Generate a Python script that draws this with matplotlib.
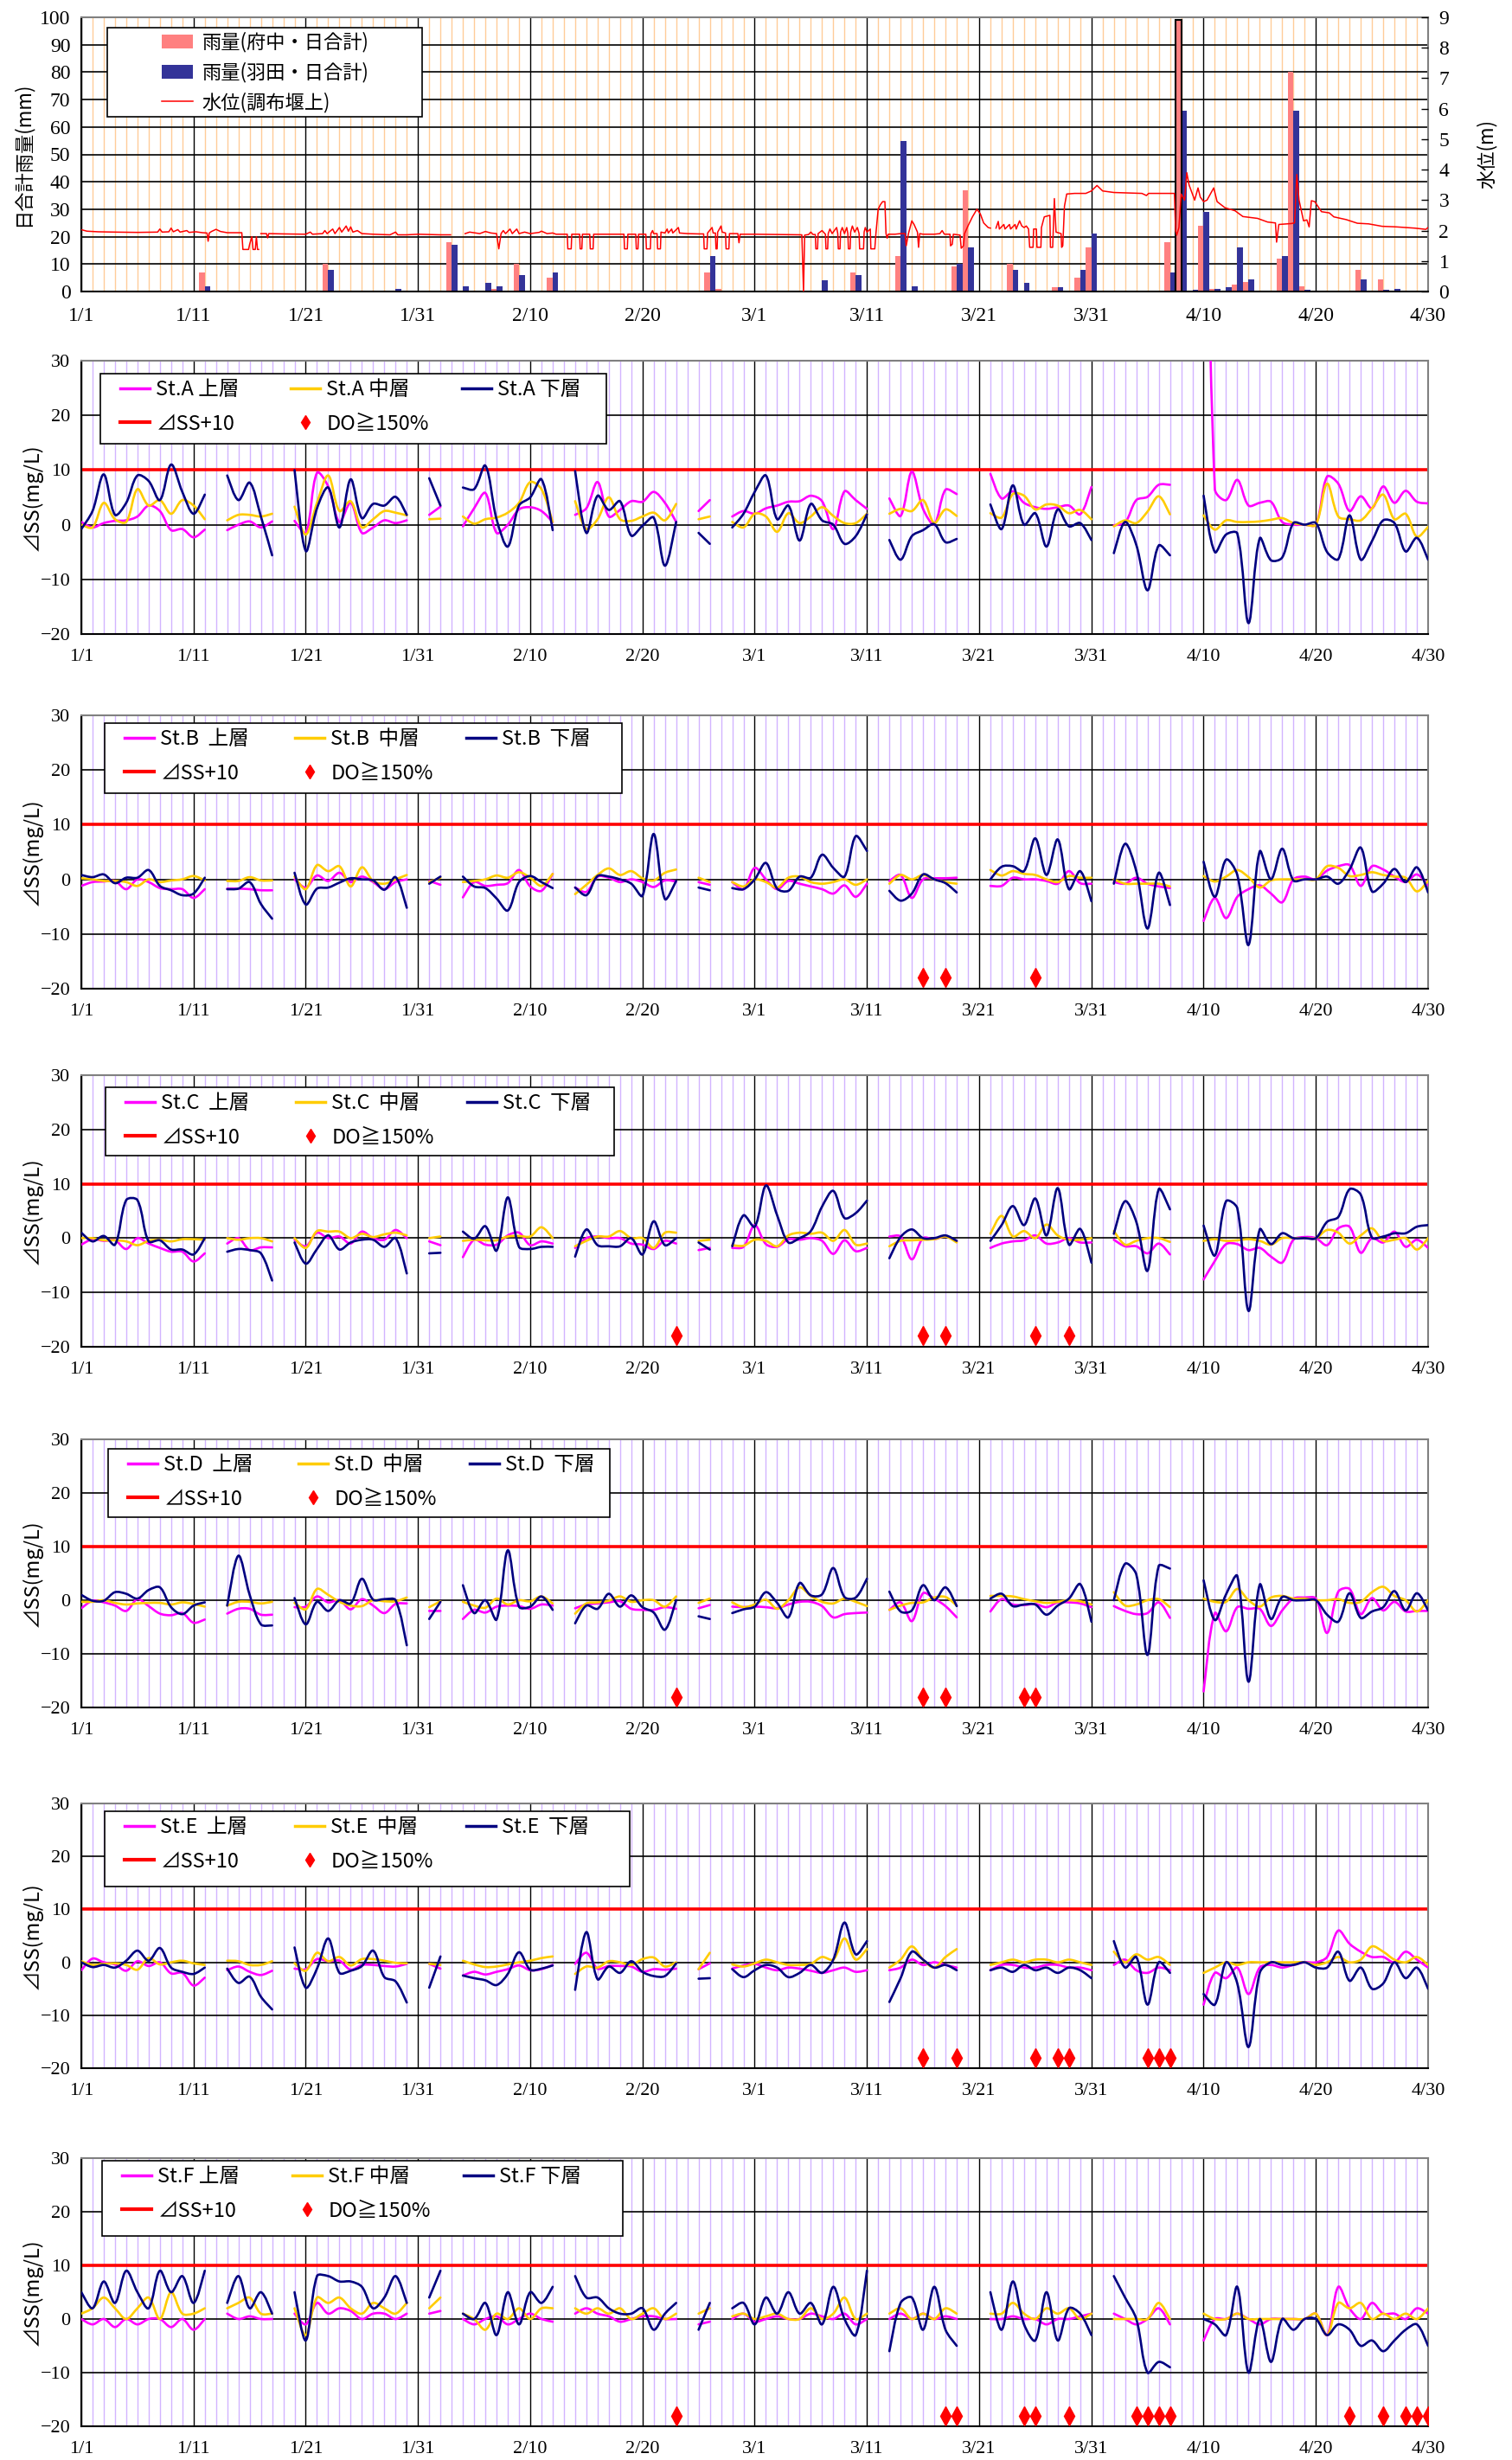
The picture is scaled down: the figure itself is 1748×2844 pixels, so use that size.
import numpy as np
import matplotlib
matplotlib.use("Agg")
import matplotlib.pyplot as plt
from matplotlib.path import Path
from matplotlib.patches import PathPatch, Patch, Rectangle
from matplotlib.lines import Line2D
from matplotlib.legend import Legend

plt.rcParams['font.family'] = ['Liberation Serif', 'Noto Sans CJK JP', 'DejaVu Sans']
JP = ['Noto Sans CJK JP', 'DejaVu Sans']

# ---------------- data ----------------
date_labels = ['1/1', '1/11', '1/21', '1/31', '2/10', '2/20', '3/1',
               '3/11', '3/21', '3/31', '4/10', '4/20', '4/30']

# daily rainfall (day index from 1/1)
rain_days = [11, 22, 28, 33, 34, 36, 37, 39, 42, 56, 57, 66, 69, 73, 74, 78, 79, 83, 84,
             87, 89, 90, 97, 98, 99, 100, 101, 102, 103, 104, 107, 108, 109, 114, 116, 117]
rain_fuchu = [7, 10, 0, 18, 0, 0, 1, 10, 5, 7, 1, 0, 7, 13, 0, 9, 37, 10, 0,
              1.5, 5, 16, 18, 99, 0, 24, 1, 0, 2.5, 3.5, 12, 80, 2, 8, 4.5, 0]
rain_haneda = [2, 8, 1, 17, 2, 3, 2, 6, 7, 13, 0, 4, 6, 55, 2, 10, 16, 8, 3,
               1.5, 8, 21, 7, 66, 0.5, 29, 1, 1.5, 16, 4.5, 13, 66, 0.5, 4.5, 0.5, 1]

# water level (day, m); None = missing
water_level = [
    (0.0, 2.03), (0.5, 1.98), (1.5, 1.96), (3, 1.95), (5, 1.94), (6.8, 1.95), (7.0, 2.05),
    (7.2, 1.95), (7.8, 1.96), (8.0, 2.08), (8.2, 1.96), (8.6, 2.03), (8.8, 1.95), (9.4, 2.0),
    (9.6, 1.94), (10.2, 1.96), (10.8, 1.93), (11.2, 1.92), (11.3, 1.65), (11.4, 1.92),
    (11.6, 1.97), (12.0, 2.04), (12.4, 1.97), (13.0, 1.93), (14.3, 1.93), (14.4, 1.38),
    (14.9, 1.38), (15.0, 1.55), (15.2, 1.8), (15.3, 1.38), (15.5, 1.38), (15.6, 1.8),
    (15.7, 1.38), (15.8, 1.38), (15.9, None), (16.0, 1.9), (16.5, 1.9), (16.6, 1.76),
    (16.7, 1.9), (18, 1.89), (20, 1.88), (20.4, 1.95), (20.6, 1.88), (21.5, 1.9), (21.7, 2.0),
    (21.9, 1.9), (22.4, 2.05), (22.6, 1.9), (23.0, 2.1), (23.2, 1.95), (23.6, 2.15),
    (23.8, 1.98), (24.0, 2.12), (24.2, 1.95), (24.6, 2.0), (25.0, 1.9), (26, 1.88),
    (27.5, 1.86), (28.0, 1.95), (28.2, 1.86), (29, 1.86), (30, 1.88), (32.0, 1.86),
    (32.9, 1.86), (33.5, None), (34.2, 1.9), (34.6, 1.95), (35.5, 1.9), (36.0, 1.97),
    (36.5, 1.92), (37.0, 1.9), (37.2, 1.40), (37.4, 1.9), (37.6, 2.0), (37.8, 1.9),
    (38.2, 2.05), (38.4, 1.9), (38.8, 2.05), (39.0, 1.9), (39.5, 1.95), (40.0, 1.9),
    (40.8, 1.94), (41.0, 1.98), (41.5, 1.9), (42.0, 1.92), (42.3, 1.88),
    (43.3, 1.88), (43.35, 1.40), (43.65, 1.40), (43.7, 1.88), (44.4, 1.88), (44.45, 1.40),
    (44.6, 1.40), (44.65, 1.88), (45.3, 1.88), (45.35, 1.40), (45.6, 1.40), (45.65, 1.88),
    (48.35, 1.88), (48.4, 1.40), (48.65, 1.40), (48.7, 1.88), (49.4, 1.88), (49.45, 1.40),
    (49.6, 1.40), (49.65, 1.88), (50.3, 1.88), (50.35, 1.40), (50.7, 1.40), (50.75, 1.9),
    (50.9, 2.0), (51.0, 1.9), (51.3, 1.9), (51.35, 1.40), (51.6, 1.40), (51.65, 1.95),
    (52.0, 1.92), (52.2, 2.05), (52.3, 1.92), (52.6, 2.05), (52.7, 1.92), (53.2, 2.1),
    (53.3, 1.92), (54, 1.9), (55.0, 1.89), (55.45, 1.89), (55.5, 1.4), (55.75, 1.4),
    (55.8, 1.92), (56.2, 2.1), (56.3, 1.92), (56.5, 1.92), (56.55, 1.4), (56.65, 1.4),
    (56.7, 1.95), (57.0, 2.15), (57.1, 1.95), (57.4, 1.92), (57.45, 1.4), (57.7, 1.4),
    (57.75, 1.9), (58.5, 1.9), (58.6, 1.6), (58.7, 1.88), (60, 1.88), (62, 1.87),
    (64.0, 1.86), (64.2, 1.86), (64.35, 0.0), (64.45, 1.85), (64.8, 1.87), (65.0, 1.95),
    (65.2, 1.87), (65.4, 1.87), (65.45, 1.4), (65.6, 1.4), (65.65, 1.9), (66.0, 2.0),
    (66.3, 1.88), (66.35, 1.4), (66.5, 1.4), (66.55, 1.9), (66.7, 2.05), (66.9, 1.9),
    (67.3, 2.1), (67.4, 1.9), (67.45, 1.4), (67.6, 1.4), (67.65, 1.95), (67.8, 2.1),
    (68.0, 1.9), (68.2, 2.1), (68.3, 1.9), (68.35, 1.4), (68.5, 1.4), (68.55, 1.95),
    (68.7, 2.15), (68.9, 1.95), (69.15, 2.1), (69.3, 1.9), (69.35, 1.4), (69.7, 1.4),
    (69.75, 1.95), (69.85, 2.1), (70.0, 1.95), (70.3, 2.05), (70.35, 1.4), (70.7, 1.4),
    (70.8, 1.9), (71.0, 2.7), (71.2, 2.85), (71.4, 2.95), (71.6, 2.95), (71.7, 1.9),
    (71.8, 1.75), (71.9, 1.88), (72.5, 1.88), (73.0, 1.9), (73.4, 1.9), (73.5, 1.5),
    (73.7, 1.9), (74.0, 2.32), (74.2, 2.2), (74.5, 1.95), (74.6, 1.45), (74.7, 1.9),
    (75.0, 1.88), (76.0, 1.88), (76.5, 1.9), (76.7, 2.0), (76.9, 1.88), (77.4, 1.88),
    (77.45, 1.5), (77.6, 1.55), (77.7, 1.88), (78.3, 1.85), (78.4, 1.42), (78.6, 1.5),
    (78.7, 1.9), (79.0, 2.15), (79.4, 2.45), (79.8, 2.7), (80.1, 2.55), (80.4, 2.25),
    (80.8, 2.1), (81.0, 2.08), (81.2, None), (81.5, 2.08), (81.7, 2.3), (81.8, 2.05),
    (82.2, 2.2), (82.3, 2.05), (82.7, 2.2), (82.8, 2.05), (83.2, 2.2), (83.3, 2.05),
    (83.6, 2.32), (83.8, 2.15), (84.0, 2.1), (84.2, 2.15), (84.4, 2.05), (84.5, 1.45),
    (84.8, 1.45), (84.85, 2.05), (85.1, 2.05), (85.15, 1.45), (85.5, 1.45), (85.55, 2.1),
    (85.8, 2.45), (86.3, 2.5), (86.35, 1.45), (86.55, 1.45), (86.7, 3.05), (86.85, 1.95),
    (87.3, 1.9), (87.35, 1.45), (87.45, 1.5), (87.6, 2.8), (87.8, 3.2), (88.5, 3.22),
    (89.5, 3.22), (90.0, 3.3), (90.5, 3.48), (91.0, 3.3), (92, 3.25), (94.5, 3.22),
    (94.9, 3.15), (95.1, 3.22), (97.4, 3.22), (97.5, 2.0), (97.6, 1.85), (97.8, 2.1),
    (98.0, 3.2), (98.3, 3.0), (98.5, 3.9), (98.7, 3.5), (99.0, 3.2), (99.2, 3.0),
    (99.5, 3.4), (99.7, 3.1), (100.0, 2.95), (100.3, 3.0), (100.9, 3.4), (101.2, 2.95),
    (101.9, 2.75), (102.8, 2.65), (103.5, 2.46), (104.8, 2.4), (105.7, 2.28), (106.4, 2.25),
    (106.5, 1.62), (106.7, 2.2), (107.8, 2.23), (108.1, 2.25), (108.3, 3.84), (108.5, 3.0),
    (108.9, 2.32), (109.2, 2.35), (109.4, 2.12), (109.6, 2.98), (109.9, 2.95), (110.5, 2.62),
    (111.2, 2.58), (111.6, 2.45), (112.7, 2.36), (113.7, 2.24), (114.7, 2.22), (115.9, 2.14),
    (117.2, 2.12), (118.8, 2.08), (119.8, 2.04), (120.0, 2.1),
]

# sampling periods (first day, last day) shared by all stations
seg_days = [(0, 11), (13, 17), (19, 29), (31, 32), (34, 42), (44, 53), (55, 56),
            (58, 70), (72, 78), (81, 90), (92, 97), (100, 120)]

# ---- St.A ----
A_up = [[0.5, -0.5, 0.3, 0.7, 0.8, 1.5, 3.5, 2.5, -1.0, -0.8, -2.3, -0.9],
        [-1.0, 0.0, 0.6, -0.5, 0.6],
        [0.7, -1.5, 9.5, 7.0, 0.5, 4.0, -1.5, -0.5, 0.8, 0.3, 0.8],
        [1.8, 3.3],
        [-0.3, 3.0, 5.8, -1.5, 0.0, 2.8, 3.2, 2.5, 0.5],
        [1.8, 3.0, 7.8, 1.5, 2.7, 4.3, 4.2, 6.0, 4.0, 0.5],
        [2.5, 4.5],
        [1.5, 2.5, 2.0, 3.0, 3.5, 4.2, 4.3, 5.3, 4.3, -0.8, 6.1, 4.5, 2.9],
        [4.8, 1.6, 9.7, 2.9, 0.1, 6.4, 5.6],
        [9.3, 4.8, 6.1, 4.0, 3.2, 2.9, 3.2, 3.5, 1.9, 6.9],
        [-0.1, 0.4, 4.5, 5.1, 7.3, 7.3],
        [100, 6.5, 4.5, 8.2, 3.5, 4.0, 4.2, 0.5, 0.0, 0.0, 0.0, 8.8, 7.5, 2.5, 5.2, 3.0,
         7.0, 4.0, 6.2, 4.2, 3.9]]
A_mid = [[0.0, -0.5, 4.0, 1.0, 0.5, 6.5, 3.5, 4.5, 2.0, 4.5, 3.5, 1.0],
         [0.8, 1.8, 1.8, 1.5, 2.0],
         [3.3, -1.8, 4.0, 9.0, 2.5, 4.3, -0.5, 1.0, 2.5, 2.2, 1.7],
         [1.0, 1.1],
         [1.5, 0.2, 1.0, 1.3, 2.2, 4.0, 7.8, 6.5, 0.5],
         [4.3, -0.8, 1.0, 5.0, 1.0, 0.7, 1.5, 2.2, 0.8, 3.8],
         [1.0, 1.5],
         [0.5, -0.5, 2.0, 1.5, -1.3, 2.1, 0.3, 1.5, 3.2, 1.6, 0.3, 0.3, 2.0],
         [2.0, 2.9, 2.5, 4.5, 0.3, 2.8, 1.6],
         [2.1, 1.3, 5.6, 5.3, 2.8, 3.7, 3.5, 2.1, 2.7, 1.0],
         [-0.3, 0.8, 0.3, 2.4, 5.2, 1.9],
         [1.7, -0.9, 0.8, 0.5, 0.5, 0.6, 0.9, 1.2, 0.3, 0.0, 0.0, 7.5, 1.5, 1.0, 0.8, 3.0,
          5.5, 1.0, 2.0, -2.2, -0.4]]
A_low = [[-0.8, 2.5, 9.2, 1.8, 4.0, 9.0, 8.0, 4.5, 11.0, 6.0, 2.0, 5.5],
         [9.0, 4.5, 7.7, 1.5, -5.6],
         [10.0, -4.8, 3.0, 6.8, -0.5, 8.3, 1.2, 3.8, 3.5, 5.1, 1.8],
         [8.5, 3.5],
         [6.8, 6.5, 10.8, 1.0, -4.0, 3.5, 5.0, 8.3, -1.0],
         [9.8, -1.5, 5.3, 2.7, 4.3, -2.0, -0.2, 1.3, -7.5, 0.5],
         [-1.5, -3.5],
         [-0.5, 2.0, 6.0, 9.0, 1.0, 3.5, -2.9, 3.8, 0.8, 0.0, -3.5, -2.1, 1.9],
         [-2.8, -6.4, -2.1, -1.0, 0.1, -3.2, -2.6],
         [3.7, -0.8, 7.2, 0.0, 2.1, -4.0, 2.8, -0.3, 0.3, -2.8],
         [-5.2, 0.5, -3.7, -12.0, -3.8, -5.6],
         [5.3, -5.0, -1.8, -1.6, -18.0, -2.5, -6.5, -6.0, 0.3, 0.0, 0.3, -5.0, -6.3, 1.7,
          -6.4, -3.0, 0.8, 0.3, -4.9, -2.4, -6.4]]
A_do = []

# ---- St.B ----
B_up = [[-1.2, -0.5, -0.4, -0.3, -1.8, 0.0, -0.5, -1.6, -1.8, -1.8, -3.4, -1.8],
        [-1.7, -1.7, -1.8, -2.0, -2.0],
        [0.0, -1.5, 0.7, -0.3, 1.2, -0.5, 0.5, -0.5, -1.8, -0.5, 0.0],
        [-0.3, -1.0],
        [-3.3, -0.5, -1.2, -1.0, -0.7, 1.7, -1.3, -2.1, 1.0],
        [-1.5, -2.3, 0.5, 0.3, -0.5, 0.0, -0.5, -1.4, -0.2, -0.4],
        [-0.5, -1.0],
        [-0.5, -1.8, 2.1, 0.0, -1.8, -0.3, -0.8, -1.3, -1.8, -2.6, -1.1, -3.2, -0.8],
        [-0.3, 0.8, -3.4, 0.0, 0.2, 0.2, 0.3],
        [-1.2, -1.2, 0.3, 0.0, 0.0, -0.3, -0.8, 1.5, -0.7, -0.8],
        [-0.5, -0.8, 0.3, -0.8, -1.3, -1.6],
        [-7.6, -3.4, -7.1, -3.2, -1.8, -1.1, -2.6, -4.2, 0.0, 0.5, 0.0, 1.6, 2.4, 2.6, -1.2,
         2.4, 1.8, 0.5, -0.5, 0.9, -1.1]]
B_mid = [[0.2, 0.0, -0.3, -0.3, -0.5, -1.2, 0.0, -0.5, -0.2, 0.0, 0.6, -0.2],
         [-0.3, -0.3, 0.4, -0.2, -0.2],
         [0.5, -1.8, 2.6, 1.5, 2.4, -1.3, 2.2, -0.3, -0.8, 0.0, 0.8],
         [-0.5, 0.3],
         [-0.5, -0.3, 0.0, 0.7, 0.3, 1.3, 0.3, -1.2, 1.0],
         [-2.7, -1.0, 0.8, 2.0, 0.8, 1.5, 0.2, -0.2, 1.2, 1.8],
         [0.3, -0.5],
         [-0.5, -1.3, 0.0, -0.5, -1.5, 0.3, 0.5, -0.5, -0.8, -0.5, 0.0, -1.0, 0.0],
         [-0.8, 0.8, 0.0, 0.8, 0.0, -0.5, -0.8],
         [1.7, 0.7, 1.5, 1.0, 0.8, 0.0, -0.5, 0.6, 0.3, 0.3],
         [0.0, -0.8, -0.8, -0.8, -0.8, -1.3],
         [0.6, -0.4, 0.5, 1.7, 0.4, -1.5, -0.2, 0.0, 0.0, 0.0, 0.0, 2.4, 2.1, 0.6, 0.8, 1.3,
          0.8, 0.5, 0.3, -2.2, -0.3]]
B_low = [[0.8, 0.4, 0.9, -0.7, 0.3, 0.3, 1.7, -1.2, -2.0, -2.9, -2.6, 0.3],
         [-1.8, -1.7, -0.5, -4.5, -7.2],
         [1.2, -4.6, -1.7, -1.5, -0.6, 0.2, 0.0, -0.2, -1.9, 0.4, -5.2],
         [-0.8, 0.5],
         [0.5, -1.3, -1.6, -3.5, -5.7, -0.5, 0.6, -0.5, -1.6],
         [-1.5, -2.9, 0.6, 0.5, 0.0, -0.8, -3.0, 8.3, -3.6, -0.3],
         [-1.5, -2.0],
         [-1.6, -1.8, 0.0, 3.0, -1.7, -2.1, 0.5, 0.3, 4.5, 2.1, 0.5, 7.9, 5.2],
         [-2.1, -3.9, -2.6, 0.9, 0.0, -0.7, -2.4],
         [0.0, 2.3, 2.4, 1.5, 7.5, 0.8, 7.3, -1.8, 1.5, -4.0],
         [-0.8, 6.5, 1.5, -9.0, 1.2, -4.7],
         [3.2, -3.2, 3.6, 0.8, -12.0, 5.1, 0.0, 5.6, -0.2, 0.0, 0.0, 0.5, -0.8, 1.8, 5.8,
          -2.2, -0.8, 1.9, -0.5, 2.2, -2.4]]
B_do = [75, 77, 85]

# ---- St.C ----
C_up = [[-1.2, -0.2, -0.5, -0.4, -2.0, 0.0, -1.0, -1.8, -2.5, -2.5, -4.3, -2.8],
        [-1.0, 0.0, -2.2, -1.7, -1.7],
        [-0.3, -1.5, 1.0, 0.0, 0.3, -1.0, 1.2, 0.0, -0.3, 1.5, 0.0],
        [-0.6, -1.3],
        [-3.5, -0.3, -1.2, -1.2, 0.5, 1.0, -1.3, -0.6, -1.0],
        [-1.8, 0.0, 0.3, 0.0, 0.0, -1.0, -1.2, -2.0, -0.5, -1.0],
        [-2.2, -1.8],
        [-1.8, -1.6, 2.4, -1.1, -1.6, -0.2, -0.3, 0.0, -0.5, -2.9, -0.4, -2.4, -1.8],
        [0.3, 0.3, -3.9, 0.0, -0.2, 0.3, -0.6],
        [-1.8, -1.0, -0.6, -0.4, 0.5, -1.0, -0.8, 0.0, -0.8, -0.8],
        [-0.3, -1.5, -1.5, -2.8, -1.0, -3.0],
        [-7.6, -4.2, -1.1, -1.1, -2.2, -1.8, -3.4, -4.5, -0.3, 0.2, 0.0, -1.3, 1.8, 2.1, -2.7,
         0.0, -0.8, 1.2, -1.6, -0.3, -1.8]]
C_mid = [[0.0, 0.0, -0.4, -0.4, -0.6, -1.3, -0.5, -0.3, -0.6, -0.2, -0.2, -0.3],
         [0.0, -0.3, 0.0, 0.0, -0.6],
         [0.0, -1.8, 1.3, 1.2, 1.2, 0.0, 0.8, 0.2, 0.7, 1.0, 0.5],
         [0.0, 0.3],
         [-0.5, -0.3, -0.4, -0.4, 0.3, 0.4, 0.3, 2.0, 0.0],
         [-1.5, -0.5, 0.3, 0.3, 1.3, 0.0, 0.0, -1.8, 1.0, 1.0],
         [-0.5, -0.3],
         [-1.3, -1.4, -0.3, -0.5, -1.5, 0.5, 1.0, 0.8, 1.0, -0.5, 1.5, -1.2, -1.0],
         [-1.5, -0.5, -0.4, -0.3, -0.2, 0.3, -0.8],
         [0.8, 4.1, 0.3, 1.3, 0.0, 2.5, 0.5, -0.3, -0.3, 0.0],
         [1.3, -1.2, -0.5, 0.0, 0.0, -0.7],
         [-0.5, -0.2, -0.5, -0.4, -0.2, -0.5, -1.2, 0.0, 0.0, 0.0, 0.0, 1.5, 1.0, -1.0, 0.5,
          1.8, -0.5, -0.3, 0.0, -2.1, 0.0]]
C_low = [[1.0, -0.6, 0.4, -1.2, 7.0, 7.0, -0.6, -0.4, -2.1, -2.1, -3.0, 0.0],
         [-2.5, -2.0, -2.2, -2.8, -7.8],
         [-0.8, -4.7, -2.0, 0.5, -2.1, -0.8, -0.3, -0.3, -1.6, 0.0, -6.5],
         [-2.8, -2.7],
         [1.2, -0.1, 2.2, -2.3, 7.5, -1.6, -2.0, -1.6, -1.6],
         [-3.4, 1.6, -1.3, -1.5, -1.5, 0.0, -3.0, 3.1, -1.3, 0.0],
         [-0.8, -2.1],
         [-1.5, 4.2, 2.1, 9.7, 4.2, -0.8, 0.0, 1.3, 5.8, 8.7, 3.7, 4.6, 6.9],
         [-3.7, 0.2, 1.6, 0.0, 0.0, 0.5, -0.5],
         [-0.5, 2.4, 5.9, 2.4, 7.3, 0.5, 9.2, -1.2, 1.7, -4.5],
         [0.8, 6.8, 3.0, -6.0, 9.0, 5.3],
         [2.3, -3.2, 6.8, 5.5, -13.4, 1.6, -1.1, 0.9, 0.0, 0.0, 0.0, 3.0, 3.9, 9.0, 8.0, 0.1,
          0.3, 0.9, 0.9, 2.1, 2.4]]
C_do = [53, 75, 77, 85, 88]

# ---- St.D ----
D_up = [[-1.5, -0.1, -0.4, -1.0, -2.0, 0.2, -1.1, -2.5, -2.8, -2.4, -4.2, -3.6],
        [-2.5, -1.6, -1.6, -2.7, -2.7],
        [-1.3, -1.2, 0.7, -0.4, 0.0, -1.7, 0.2, -1.0, -2.4, -0.7, -0.6],
        [-2.0, -2.0],
        [-3.5, -1.8, -2.3, -1.2, -1.0, -1.1, -1.6, -0.8, -1.0],
        [-1.5, -0.8, -0.6, -0.4, -0.2, -1.6, -1.8, -1.8, -1.3, -1.6],
        [-1.5, -0.9],
        [-1.2, -1.3, -1.2, -1.3, -1.5, -0.8, -0.3, -0.3, -1.1, -3.2, -2.6, -2.4, -2.3],
        [-1.8, -0.4, -3.9, 1.3, 0.3, -1.1, -3.2],
        [-2.1, 0.2, -0.8, -0.9, -0.7, -1.3, -0.4, -0.4, -0.6, -1.3],
        [-1.1, -2.0, -2.6, -2.4, -0.4, -3.3],
        [-17.0, -2.4, -5.8, -1.3, -1.6, -1.6, -4.8, -1.9, 0.3, 0.5, 0.3, -6.1, 1.6, 2.1, -2.6,
         0.4, -1.9, -0.3, -2.1, -2.0, -2.0]]
D_mid = [[-0.3, -0.3, 0.0, -0.5, -0.8, -0.6, -0.5, -0.5, -0.8, -0.4, -0.7, -1.2],
         [-1.0, -0.3, -0.3, -0.6, -0.3],
         [-0.5, -1.7, 2.1, 1.0, -0.3, -1.0, -1.1, 0.0, -0.2, -0.2, 0.5],
         [-1.3, -0.2],
         [-0.3, -1.0, -1.4, 0.3, -0.8, 0.0, -0.2, 0.7, -0.6],
         [-2.5, -0.6, -0.4, -0.1, 0.7, -0.3, 0.0, 0.0, -1.2, 0.7],
         [-0.5, 0.3],
         [-0.4, -1.3, -0.8, 0.1, -1.6, 0.0, 2.4, 0.8, -0.3, -0.6, 0.3, -0.3, -1.1],
         [-1.8, -1.0, -0.5, -0.4, 0.5, 0.6, -1.0],
         [0.8, 0.8, 0.7, 0.2, -0.2, -0.5, -0.3, 0.0, -0.2, -0.8],
         [1.5, -1.0, -0.8, 0.0, 0.2, -1.3],
         [0.3, -0.3, -0.3, 2.1, 0.0, -1.2, 0.5, 0.8, 0.3, 0.3, 0.0, 0.0, 0.2, -0.5, -0.3, 1.5,
          2.5, 0.8, 0.0, -2.1, 0.0]]
D_low = [[1.0, -0.1, -0.1, 1.5, 1.2, 0.3, 1.9, 2.4, -1.3, -2.6, -1.0, -0.4],
         [-1.0, 8.3, 1.0, -4.5, -4.7],
         [0.4, -4.5, -0.3, -2.0, 0.0, -0.6, 4.0, 0.1, 0.2, 0.0, -8.4],
         [-3.5, -0.3],
         [2.8, -2.4, 0.0, -3.6, 9.3, -1.2, -1.2, 0.7, -1.8],
         [-4.3, -1.0, -1.6, 1.2, -1.2, 0.9, -1.3, -2.3, -5.5, 0.0],
         [-3.0, -3.5],
         [-2.4, -1.7, -1.2, 1.5, -0.5, -3.2, 3.2, 0.9, 1.1, 6.0, 0.6, 0.5, 4.0],
         [1.6, -2.1, -1.9, 2.8, 0.0, 2.4, -1.1],
         [0.3, 1.2, -1.1, -0.8, -0.8, -2.7, -1.0, 0.3, 3.0, -4.0],
         [0.0, 6.8, 4.8, -10.2, 6.4, 5.9],
         [3.7, -3.7, 1.1, 4.5, -15.2, 2.9, -3.5, 0.6, 0.0, 0.0, 0.0, -2.7, -4.0, 1.3, -3.3,
          -2.1, -1.3, 1.7, -1.9, 1.3, -1.9]]
D_do = [53, 75, 77, 84, 85]

# ---- St.E ----
E_up = [[-1.5, 0.7, 0.0, -0.4, -1.6, 0.2, -0.7, 0.0, -2.1, -2.0, -4.4, -2.9],
        [-1.5, -0.8, -1.8, -2.4, -1.6],
        [-1.2, -1.3, 0.6, 0.2, 0.3, -1.4, -0.5, -0.5, -0.7, -0.8, -0.3],
        [-0.3, -1.2],
        [-2.5, -1.8, -2.3, -1.8, -1.3, -0.6, -1.5, -1.3, -0.5],
        [-0.3, 1.8, -1.2, -0.7, -0.7, -0.8, -1.8, -1.3, -1.4, -1.2],
        [-1.3, -0.2],
        [-1.2, -0.6, -0.3, -1.0, -1.5, -1.0, -1.2, -1.6, -2.0, -1.5, -1.0, -1.8, -1.5],
        [-1.5, -1.0, 0.5, -0.5, 0.0, -0.5, -1.0],
        [-1.5, -0.5, -0.5, -1.0, -1.0, -0.5, -0.5, -1.0, -1.0, -1.5],
        [-0.5, 0.5, -1.5, -2.0, -1.0, -1.5],
        [-8.0, -2.0, -3.0, -1.0, -6.0, -1.0, -0.5, -1.0, -0.5, 0.0, 0.0, 1.0, 6.0, 3.5, 2.0,
         1.0, 1.0, 0.0, 2.0, 0.5, -1.0]]
E_mid = [[0.2, -0.5, -0.3, -0.2, -0.5, -1.4, 0.8, -0.4, 0.0, 0.3, -0.2, -0.5],
         [0.3, 0.2, -0.5, -0.5, 0.2],
         [-0.2, -1.6, 1.8, 0.2, 1.0, -0.6, 0.6, 0.6, 0.3, -0.1, -0.2],
         [-0.3, -0.5],
         [0.3, -0.4, -0.9, -0.8, -0.4, 0.0, 0.3, 0.8, 1.1],
         [-2.2, -0.8, -1.0, 0.2, 0.0, -0.5, 0.6, 0.9, -0.8, 0.0],
         [-1.3, 1.8],
         [-0.4, -0.8, -0.2, 0.5, 0.0, -0.5, -0.5, -0.3, 1.0, 0.5, 4.5, 0.5, 2.5],
         [-1.0, 0.5, 3.0, 0.5, -1.0, 1.0, 2.5],
         [-0.5, 0.0, 0.5, 0.0, 0.5, 0.5, 0.0, 0.5, 0.0, -0.5],
         [2.0, 0.0, 1.5, 0.5, 1.0, -0.5],
         [-2.0, -1.0, 0.0, -0.5, 0.0, 0.0, 0.0, 0.0, 0.0, 0.0, -0.5, 0.0, 1.0, 0.0, 0.5, 3.0,
          2.0, 0.5, 0.0, 1.0, -0.5]]
E_low = [[0.0, -0.9, -0.5, -1.0, 0.3, 2.2, 0.3, 2.7, -1.0, -1.8, -2.2, -1.0],
         [-1.2, -3.9, -2.7, -6.5, -8.9],
         [2.8, -4.8, -1.2, 4.5, -2.0, -1.6, -0.7, 2.2, -2.8, -3.6, -7.6],
         [-4.8, 1.1],
         [-2.5, -3.0, -3.4, -4.3, -2.2, 1.9, -1.4, -1.2, -0.6],
         [-5.2, 5.7, -3.2, -0.8, -2.0, 0.2, -1.8, -2.6, -2.6, -0.2],
         [-3.1, -3.0],
         [-1.3, -2.8, -1.5, -0.5, -1.0, -2.8, -2.0, -0.5, -2.0, 0.5, 7.5, 1.5, 4.0],
         [-7.5, -3.0, 2.0, 0.5, -1.0, -0.5, -1.5],
         [-1.5, -1.0, -1.8, -0.5, -1.5, -1.0, -2.0, -1.0, -1.5, -3.0],
         [4.0, -1.0, 1.0, -8.0, 0.0, -2.0],
         [-6.0, -8.0, 0.0, -4.0, -16.0, -2.0, 0.0, -0.5, -0.5, 0.0, -1.0, -1.0, 2.0, -3.5, -1.0,
          -5.0, -4.0, 0.0, -3.0, -1.0, -5.0]]
E_do = [75, 78, 85, 87, 88, 95, 96, 97]

# ---- St.F ----
F_up = [[0.0, -1.0, 0.0, -1.5, 0.0, -1.0, 0.0, 0.0, -1.5, 0.0, -2.0, 0.0],
        [1.0, 0.0, 0.5, 0.0, 0.0],
        [1.0, -1.0, 3.0, 1.0, 2.0, 1.5, 0.0, 1.0, 1.0, 0.0, 1.0],
        [1.0, 1.5],
        [0.0, -1.0, 0.0, 0.5, -1.0, 0.0, 1.0, 0.0, -0.5],
        [1.0, 2.0, 1.0, 0.5, -0.5, 0.0, 0.5, 0.5, 0.0, 0.0],
        [-1.0, -0.5],
        [0.0, 1.0, -0.5, 0.0, 0.5, 0.0, 0.0, 1.0, 0.5, 0.0, 1.0, -1.0, 0.0],
        [0.0, 1.0, 0.0, 1.0, 0.0, 0.5, 0.0],
        [0.0, 0.0, 0.5, 0.0, 0.0, -1.0, 0.0, 0.0, 0.5, 1.0],
        [1.0, 0.0, -1.0, 0.0, 2.0, -1.0],
        [-4.0, 0.0, 0.0, 1.0, 0.0, -1.0, 0.0, 0.0, 0.0, 0.0, 1.0, -3.0, 6.0, 2.0, 0.0, 3.0,
         1.0, 1.0, 0.0, 2.0, 1.0]]
F_mid = [[1.0, 2.0, 4.0, 2.0, 0.0, 2.0, 4.0, 0.0, 5.0, 1.0, 1.0, 2.0],
         [2.0, 3.0, 4.0, 1.0, 1.0],
         [2.0, -3.0, 4.0, 3.0, 4.0, 2.0, 1.0, 3.0, 2.0, 1.0, 3.0],
         [2.0, 4.0],
         [1.0, 0.0, -2.0, 1.0, 0.0, 2.0, 0.0, 2.0, 2.0],
         [2.0, 1.0, 2.0, 1.0, 2.0, 0.0, 1.0, 2.0, 0.0, 1.0],
         [1.0, 2.0],
         [0.5, 1.0, 0.0, 0.5, 1.0, 0.0, 0.0, 2.0, 0.0, 1.0, 4.0, 0.0, 1.0],
         [1.0, 2.0, 0.0, 1.0, 0.0, 2.0, 1.0],
         [1.0, 1.0, 3.0, 1.0, 0.0, 2.0, 1.0, 2.0, 0.0, 1.0],
         [0.0, 0.0, 0.0, 0.0, 3.0, 0.0],
         [1.0, 0.0, 0.0, 1.0, 0.0, 0.0, 0.0, 0.0, 0.0, 0.0, 1.0, -3.0, 3.0, 2.0, 3.0, 0.0,
          1.0, 0.0, 1.0, 0.0, 2.0]]
F_low = [[5.0, 2.0, 7.0, 3.0, 9.0, 5.0, 2.0, 9.0, 5.0, 8.0, 3.0, 9.0],
         [3.0, 8.0, 2.0, 5.0, 1.0],
         [5.0, -4.0, 8.0, 8.0, 7.0, 7.0, 6.0, 2.0, 4.0, 8.0, 3.0],
         [4.0, 9.0],
         [1.0, 0.0, 3.0, -3.0, 5.0, -1.0, 5.0, 3.0, 6.0],
         [8.0, 4.0, 4.0, 2.0, 1.0, 1.0, 2.0, -2.0, 1.0, 3.0],
         [-2.0, 3.0],
         [2.0, 3.0, -1.0, 4.0, 1.0, 5.0, 1.0, 3.0, -1.0, 6.0, 0.0, -3.0, 9.0],
         [-6.0, 3.0, 4.0, -2.0, 6.0, -2.0, -5.0],
         [5.0, -2.0, 7.0, -1.0, -4.0, 5.0, -4.0, 2.0, 1.0, -3.0],
         [8.0, 4.0, 0.0, -10.0, -8.0, -9.0],
         [0.0, -1.0, -3.0, 6.0, -10.0, 0.0, -8.0, 0.0, -2.0, 0.0, 0.0, -3.0, -1.0, -2.0, -5.0,
          -4.0, -6.0, -4.0, -2.0, -1.0, -5.0]]
F_do = [53, 77, 78, 84, 85, 88, 94, 95, 96, 97, 113, 116, 118, 119, 120]

# ---------------- drawing ----------------
FIG_W, FIG_H = 1749, 2844
AX_L, AX_R = 94, 1651
C_UP, C_MID, C_LOW = '#FF00FF', '#FFCC00', '#000080'


def smooth_path(ax, x, y):
    """Smoothed line (chord-weighted Bezier) through the points, built in display space."""
    pts = ax.transData.transform(np.column_stack([x, y]))
    n = len(pts)
    d = np.hypot(*np.diff(pts, axis=0).T)
    verts = [pts[0]]
    codes = [Path.MOVETO]
    for i in range(n - 1):
        p0 = pts[i - 1] if i > 0 else pts[i]
        p3 = pts[i + 2] if i + 2 < n else pts[i + 1]
        d0 = d[i - 1] if i > 0 else d[i]
        d2 = d[i + 1] if i + 2 < n else d[i]
        c1 = pts[i] + (pts[i + 1] - p0) * d[i] / (d0 + d[i]) / 3
        c2 = pts[i + 1] - (p3 - pts[i]) * d[i] / (d[i] + d2) / 3
        verts += [c1, c2, pts[i + 1]]
        codes += [Path.CURVE4] * 3
    verts = ax.transData.inverted().transform(np.array(verts))
    return Path(verts, codes)


def make_axes(top, bottom):
    return fig.add_axes([AX_L / FIG_W, 1 - bottom / FIG_H,
                         (AX_R - AX_L) / FIG_W, (bottom - top) / FIG_H])


def to_axes(top, bottom, px, py):
    return (px - AX_L) / (AX_R - AX_L), (bottom - py) / (bottom - top)


def base_grid(ax, minor_color, tick_size):
    ax.set_xlim(0, 120)
    ax.set_xticks(np.arange(0, 121, 10))
    ax.set_xticklabels(date_labels)
    ax.set_xticks(np.arange(0, 121, 1), minor=True)
    ax.grid(which='minor', axis='x', color=minor_color, lw=1.0)
    ax.grid(which='major', axis='x', color='black', lw=1.0)
    ax.grid(which='major', axis='y', color='black', lw=1.2)
    ax.set_axisbelow(True)
    ax.tick_params(which='both', length=0, labelsize=tick_size)
    ax.tick_params(axis='x', pad=13)
    ax.tick_params(axis='y', pad=9)
    for s in ('left', 'bottom'):
        ax.spines[s].set_color('black')
        ax.spines[s].set_linewidth(1.5)
    for s in ('top', 'right'):
        ax.spines[s].set_color('#808080')
        ax.spines[s].set_linewidth(1.5)


fig = plt.figure(figsize=(FIG_W / 100, FIG_H / 100), dpi=100)

# ---- rainfall / water level panel ----
T0, B0 = 20, 337
ax0 = make_axes(T0, B0)
base_grid(ax0, '#FFCC99', 17)
ax0.set_ylim(0, 100)
ax0.set_yticks(np.arange(0, 101, 10))
rd = np.array(rain_days)
ax0.bar(rd - 0.25, rain_fuchu, width=0.5, color='#FF8080', zorder=2)
ax0.bar(rd + 0.25, rain_haneda, width=0.5, color='#333399', zorder=2)
imax = int(np.argmax(rain_fuchu))
ax0.bar(rd[imax] - 0.25, rain_fuchu[imax], width=0.5, facecolor='none',
        edgecolor='black', lw=1.5, zorder=3)
ax0.text(-0.0437, 0.5, '日合計雨量(mm)', transform=ax0.transAxes, rotation=90,
         ha='center', va='center', fontsize=16, family=JP)

ax1 = ax0.twinx()
wl = np.array(water_level, dtype=float)
ax1.plot(wl[:, 0], wl[:, 1], color='red', lw=1.1, zorder=3)
ax1.set_ylim(0, 9)
ax1.set_yticks(np.arange(0, 10, 1))
ax1.tick_params(axis='y', direction='in', length=6, width=1, labelsize=17, pad=9)
for s in ax1.spines.values():
    s.set_visible(False)
ax1.text(1.0437, 0.5, '水位(m)', transform=ax1.transAxes, rotation=90,
         ha='center', va='center', fontsize=16, family=JP)

fx0, fy0 = to_axes(T0, B0, 124, 135)
fx1, fy1 = to_axes(T0, B0, 488, 32)
ax1.add_patch(Rectangle((fx0, fy0), fx1 - fx0, fy1 - fy0, transform=ax1.transAxes,
                        facecolor='white', edgecolor='black', lw=1.2, zorder=5))
h_top = [Patch(facecolor='#FF8080'), Patch(facecolor='#333399'),
         Line2D([], [], color='red', lw=1.1)]
lx, ly = to_axes(T0, B0, 187, 37)
leg = ax1.legend(h_top, ['雨量(府中・日合計)', '雨量(羽田・日合計)', '水位(調布堰上)'],
                 loc='upper left', bbox_to_anchor=(lx, ly), frameon=False,
                 prop=dict(family=JP, size=16), handlelength=1.6, handleheight=0.75,
                 handletextpad=0.5, labelspacing=0.5, borderpad=0, borderaxespad=0)
leg.set_zorder(6)

# ---- ΔSS panels ----
panels = [
    ('A', 417, 733, A_up, A_mid, A_low, A_do, (116, 701, 432, 513), ' '),
    ('B', 827, 1143, B_up, B_mid, B_low, B_do, (121, 719, 836, 917), '  '),
    ('C', 1243, 1557, C_up, C_mid, C_low, C_do, (122, 710, 1257, 1336), '  '),
    ('D', 1664, 1974, D_up, D_mid, D_low, D_do, (125, 705, 1675, 1754), '  '),
    ('E', 2085, 2391, E_up, E_mid, E_low, E_do, (121, 728, 2094, 2181), '  '),
    ('F', 2495, 2805, F_up, F_mid, F_low, F_do, (118, 720, 2498, 2585), ' '),
]
col_offsets = (23, 220, 418)

for st, top, bot, up, mid, low, do_days, frame, gap in panels:
    ax = make_axes(top, bot)
    base_grid(ax, '#D2B4FF', 16)
    ax.set_ylim(-20, 30)
    ax.set_yticks(np.arange(-20, 31, 10))
    ax.tick_params(axis='x', pad=12)
    ax.axhline(10, color='red', lw=2.6, zorder=2)
    for series, col in ((up, C_UP), (mid, C_MID), (low, C_LOW)):
        for (d0, d1), vals in zip(seg_days, series):
            x = np.arange(d0, d1 + 1)
            ax.add_patch(PathPatch(smooth_path(ax, x, vals), fill=False, edgecolor=col,
                                   lw=1.9, capstyle='round', joinstyle='round', zorder=3))
    if do_days:
        ax.plot(do_days, np.full(len(do_days), -18.0), linestyle='none', marker='d',
                color='red', ms=11, zorder=4)
    ax.text(-0.037, 0.5, '⊿SS(mg/L)', transform=ax.transAxes, rotation=90,
            ha='center', va='center', fontsize=17, family=JP)

    x0, x1, yt, yb = frame
    fx0, fy0 = to_axes(top, bot, x0, yb)
    fx1, fy1 = to_axes(top, bot, x1, yt)
    ax.add_patch(Rectangle((fx0, fy0), fx1 - fx0, fy1 - fy0, transform=ax.transAxes,
                           facecolor='white', edgecolor='black', lw=1.2, zorder=5))
    columns = [
        ([Line2D([], [], color=C_UP, lw=2.5), Line2D([], [], color='red', lw=3)],
         [f'St.{st}{gap}上層', '⊿SS+10']),
        ([Line2D([], [], color=C_MID, lw=2.5),
          Line2D([], [], color='red', ls='none', marker='d', ms=8)],
         [f'St.{st}{gap}中層', 'DO≧150%']),
        ([Line2D([], [], color=C_LOW, lw=2.5)], [f'St.{st}{gap}下層']),
    ]
    for (hs, ls), off in zip(columns, col_offsets):
        lx, ly = to_axes(top, bot, x0 + off, yt + 7)
        lg = Legend(ax, hs, ls, loc='upper left', bbox_to_anchor=(lx, ly),
                    frameon=False, prop=dict(family=JP, size=17), handlelength=1.45,
                    handletextpad=0.3, labelspacing=0.7, borderpad=0, borderaxespad=0)
        lg.set_zorder(6)
        ax.add_artist(lg)

fig.savefig('out.png', dpi=100)
